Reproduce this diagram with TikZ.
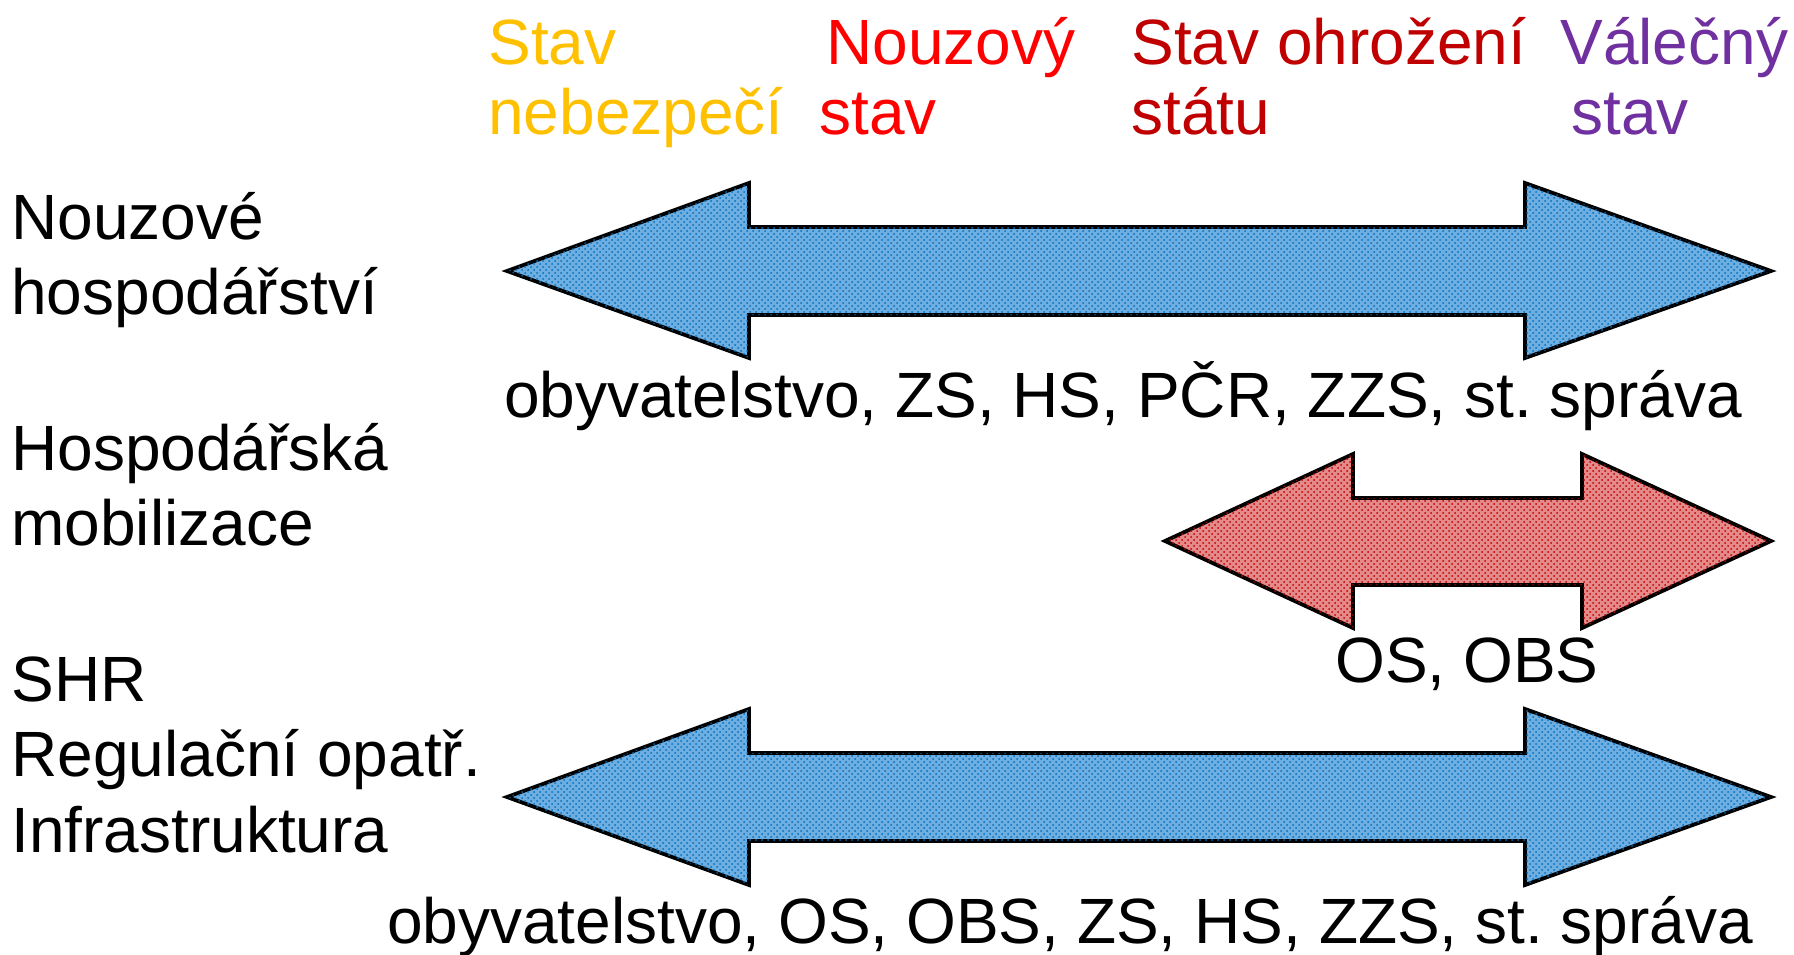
\documentclass[tikz,border=0pt]{standalone}
\usepackage{fontspec}
\setmainfont{Liberation Sans}
\usetikzlibrary{patterns}
\frenchspacing
\definecolor{cyel}{HTML}{FFC000}
\definecolor{cred}{HTML}{FF0000}
\definecolor{cdred}{HTML}{C00000}
\definecolor{cpur}{HTML}{7030A0}
\definecolor{cblue}{HTML}{0070C0}
\definecolor{cbluelt}{HTML}{6EAEE0}
\definecolor{credlt}{HTML}{E48A8A}
\begin{document}
\begin{tikzpicture}[x=0.5pt,y=-0.5pt,
  lbl/.style={anchor=base west, inner sep=0pt, font=\fontsize{32}{37.5}\selectfont},
  clbl/.style={anchor=base, inner sep=0pt, font=\fontsize{32}{37.5}\selectfont},
  bluearrow/.style={draw=black, line width=1.9pt, line join=miter, fill=cbluelt,
     postaction={pattern=crosshatch dots, pattern color=cblue}},
  redarrow/.style={draw=black, line width=1.9pt, line join=miter, fill=credlt,
     postaction={pattern=crosshatch dots, pattern color=cdred}}]
\useasboundingbox (0,0) rectangle (1794,954);

% arrows
\draw[bluearrow] (507,271) -- (749,183) -- (749,227) -- (1525,227) -- (1525,183) -- (1771,271)
  -- (1525,358) -- (1525,315) -- (749,315) -- (749,358) -- cycle;
\draw[redarrow] (1165,541) -- (1353,454) -- (1353,498) -- (1582,498) -- (1582,454) -- (1771,541)
  -- (1582,628) -- (1582,585) -- (1353,585) -- (1353,628) -- cycle;
\draw[bluearrow] (507,797) -- (749,709) -- (749,753) -- (1525,753) -- (1525,709) -- (1771,797)
  -- (1525,885) -- (1525,841) -- (749,841) -- (749,885) -- cycle;

% top labels
\node[lbl, text=cyel] (t1a) at (488,64) {Stav};
\node[lbl, text=cyel] (t1b) at (488,134) {nebezpečí};
\node[lbl, text=cred] (t2a) at (826,64) {Nouzový};
\node[lbl, text=cred] (t2b) at (819,134) {stav};
\node[lbl, text=cdred] (t3a) at (1131,64) {Stav ohrožení};
\node[lbl, text=cdred] (t3b) at (1131,134) {státu};
\node[lbl, text=cpur] (t4a) at (1560,64) {Válečný};
\node[lbl, text=cpur] (t4b) at (1571,134) {stav};

% left labels
\node[lbl] (l1a) at (11,239) {Nouzové};
\node[lbl] (l1b) at (11,314) {hospodářství};
\node[lbl] (l2a) at (11,470) {Hospodářská};
\node[lbl] (l2b) at (11,545) {mobilizace};
\node[lbl] (l3a) at (11,701) {SHR};
\node[lbl] (l3b) at (11,776) {Regulační opatř.};
\node[lbl] (l3c) at (11,852) {Infrastruktura};

% labels under arrows
\node[clbl] (b1) at (1123,417) {obyvatelstvo, ZS, HS, PČR, ZZS, st. správa};
\node[clbl] (b2) at (1467,682) {OS, OBS};
\node[clbl] (b3) at (1070,943) {obyvatelstvo, OS, OBS, ZS, HS, ZZS, st. správa};
\end{tikzpicture}
\end{document}
